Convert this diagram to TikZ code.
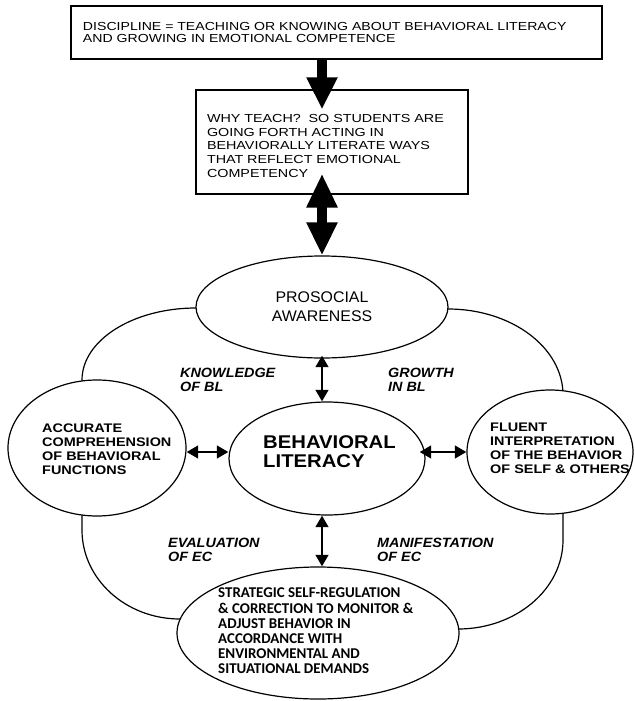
\documentclass[tikz,border=0pt]{standalone}
\usepackage{fontspec}
\setmainfont{Liberation Sans}
\newfontfamily\humfont{Carlito}
\usetikzlibrary{shapes.geometric,arrows.meta,calc}
\newcommand\widen[1]{\addfontfeature{FakeStretch=#1}}

\begin{document}
\begin{tikzpicture}[x=1bp,y=-1bp,
  outline/.style={line width=1.2bp, draw=black},
  boxnode/.style={outline, rectangle, inner ysep=0pt, align=left},
  oval/.style={outline, ellipse, fill=white, inner sep=0pt},
  boxtext/.style={font=\fontsize{11.7}{12.7}\selectfont\widen{1.21}},
  whytext/.style={font=\fontsize{11.7}{13.8}\selectfont\widen{1.23}},
  circtext/.style={inner sep=0pt, align=left, font=\fontsize{12.5}{14}\selectfont\bfseries\widen{1.16}},
  linktext/.style={inner sep=0pt, align=left, font=\fontsize{13.5}{14}\selectfont\bfseries\itshape\widen{1.07}},
  bigarrow/.style={line width=10bp, -{Triangle[width=29bp,length=32bp]}},
  bigdouble/.style={line width=10bp, {Triangle[width=29bp,length=34bp]}-{Triangle[width=29bp,length=33bp]}},
  smalldouble/.style={line width=2.6bp, {Triangle[width=12.5bp,length=11.5bp]}-{Triangle[width=12.5bp,length=11.5bp]}}
]
\useasboundingbox (0,0) rectangle (635,701);

% outer ring joining the four satellite ovals
\draw[outline] (196,308) arc[start angle=270, end angle=180, x radius=114, y radius=72]
  -- (82,530) arc[start angle=180, end angle=90, x radius=98, y radius=89]
  -- (458,629) arc[start angle=90, end angle=0, x radius=105, y radius=89]
  -- (563,395) arc[start angle=0, end angle=-90, x radius=115, y radius=86]
  -- cycle;

% header boxes
\node[boxnode, boxtext, minimum width=531bp, minimum height=53bp, text width=507bp, inner xsep=12bp] (disc) at (336.5,32.5)
  {DISCIPLINE = TEACHING OR KNOWING ABOUT BEHAVIORAL LITERACY\\AND GROWING IN EMOTIONAL COMPETENCE};
\node[boxnode, whytext, minimum width=272bp, minimum height=104bp, text width=250bp, inner xsep=11bp] (why) at (332,142)
  {\rule{0pt}{15.8bp}WHY TEACH?\ \ SO STUDENTS ARE\\GOING FORTH ACTING IN\\BEHAVIORALLY LITERATE WAYS\\THAT REFLECT EMOTIONAL\\COMPETENCY};

% ovals
\node[oval, minimum width=252bp, minimum height=102bp, align=center, font=\fontsize{15.5}{19}\selectfont\widen{1.03}] (pro) at (322,307)
  {PROSOCIAL\\AWARENESS};
\node[oval, minimum width=196bp, minimum height=113bp] (bl) at (327,458.5) {};
\node[inner sep=0pt, align=left, font=\fontsize{18.5}{19.5}\selectfont\bfseries\widen{1.1}] (bltxt) at (329.5,451.5)
  {BEHAVIORAL\\LITERACY};
\node[oval, minimum width=178bp, minimum height=136bp] (acc) at (97,448) {};
\node[circtext, anchor=west] (acctxt) at (42,449)
  {ACCURATE\\COMPREHENSION\\OF BEHAVIORAL\\FUNCTIONS};
\node[oval, minimum width=166bp, minimum height=124bp] (fl) at (550,452) {};
\node[circtext, anchor=west] (fltxt) at (490,448)
  {FLUENT\\INTERPRETATION\\OF THE BEHAVIOR\\OF SELF \& OTHERS};
\node[oval, minimum width=282bp, minimum height=132bp] (strat) at (318,633) {};
\node[inner sep=0pt, align=left, anchor=west, font=\humfont\bfseries\fontsize{15}{15.2}\selectfont] (strattxt) at (218,631)
  {STRATEGIC SELF-REGULATION\\\& CORRECTION TO MONITOR \&\\ADJUST BEHAVIOR IN\\ACCORDANCE WITH\\ENVIRONMENTAL AND\\SITUATIONAL DEMANDS};

% link labels
\node[linktext, anchor=west] (know) at (180,380) {KNOWLEDGE\\OF BL};
\node[linktext, anchor=west] (grow) at (388,380) {GROWTH\\IN BL};
\node[linktext, anchor=west] (eval) at (168,550) {EVALUATION\\OF EC};
\node[linktext, anchor=west] (manif) at (377,550) {MANIFESTATION\\OF EC};

% connectors
\draw[bigarrow, shorten >=-20bp] (disc.south -| pro.north) -- (why.north -| pro.north);
\draw[bigdouble, shorten <=-21bp] (why.south -| pro.north) -- (pro.north);
\draw[smalldouble, shorten <=-3bp] (pro.south) -- (pro.south |- bl.north);
\draw[smalldouble] (pro.south |- bl.south) -- (pro.south |- strat.north);
\draw[smalldouble] ([yshift=-4bp]acc.east) -- ([yshift=-4bp]acc.east -| bl.west);
\draw[smalldouble, shorten <=-6bp] ([yshift=6.5bp]bl.east) -- ([yshift=6.5bp]bl.east -| fl.west);
\end{tikzpicture}
\end{document}
